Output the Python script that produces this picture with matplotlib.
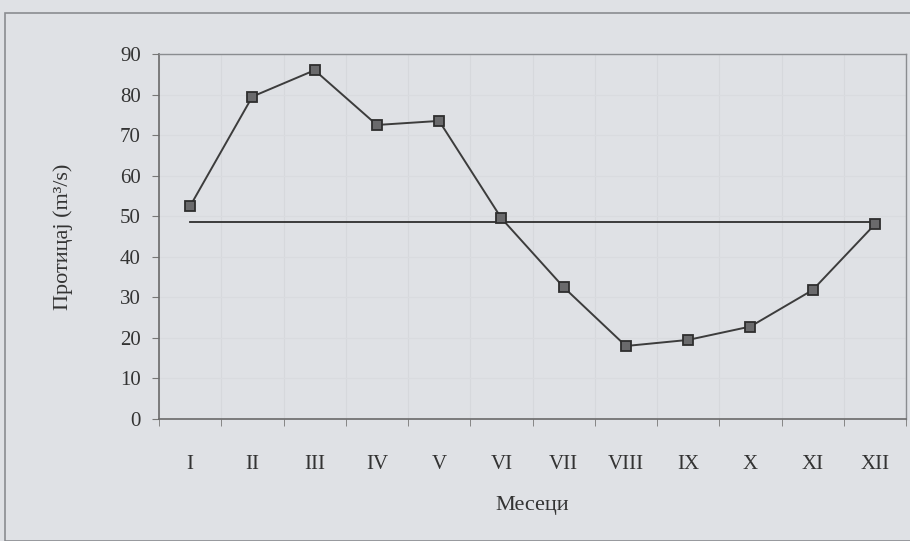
import matplotlib
matplotlib.use("Agg")
from matplotlib import pyplot as plt
from matplotlib.patches import Rectangle

months = ["I", "II", "III", "IV", "V", "VI", "VII", "VIII", "IX", "X", "XI", "XII"]
discharge = [52.5, 79.5, 86.0, 72.5, 73.5, 49.5, 32.5, 18.0, 19.5, 22.8, 31.8, 48.0]
mean_discharge = 48.5

yticks = [0, 10, 20, 30, 40, 50, 60, 70, 80, 90]

plt.rcParams["font.family"] = ["Liberation Serif", "DejaVu Serif"]

bg = "#dfe1e5"
fig = plt.figure(figsize=(9.1, 5.41), dpi=100, facecolor=bg)

# outer chart border
fig.patches.append(Rectangle((5/910, 0.0), 1.0, 1 - 13/541, transform=fig.transFigure,
                             fill=False, edgecolor="#8a8c90", linewidth=1.2))

ax = fig.add_axes([159/910, (541-419)/541, 747/910, 365/541])
ax.set_facecolor(bg)

x = list(range(len(months)))
ax.plot(x, discharge, color="#3c3c3c", linewidth=1.4, marker="s", markersize=7,
        markerfacecolor="#6a6a6c", markeredgecolor="#2e2e2e", markeredgewidth=1.3, zorder=3)
ax.plot([x[0], x[-1]], [mean_discharge, mean_discharge], color="#2e2e2e", linewidth=1.3, zorder=2)

ax.set_xlim(-0.5, len(months) - 0.5)
ax.set_ylim(0, 90)
ax.set_yticks(yticks)
ax.set_yticklabels([str(v) for v in yticks], fontsize=15, color="#333333")
ax.set_xticks(x)
ax.set_xticklabels(months, fontsize=15, color="#333333")
ax.set_xticks([i - 0.5 for i in range(len(months) + 1)], minor=True)
ax.tick_params(axis="x", which="major", length=0, pad=26)
ax.tick_params(axis="x", which="minor", length=5, color="#777777", direction="out")
ax.tick_params(axis="y", length=5, color="#777777", direction="out", pad=8)

ax.grid(axis="x", which="minor", color="#d6d8dc", linewidth=0.8)
ax.grid(axis="y", which="major", color="#d9dbdf", linewidth=0.8)
ax.set_axisbelow(True)

for side in ["left", "bottom"]:
    ax.spines[side].set_color("#6a6a6a")
    ax.spines[side].set_linewidth(1.2)
for side in ["top", "right"]:
    ax.spines[side].set_color("#8a8c90")
    ax.spines[side].set_linewidth(1.0)

ax.set_ylabel("Протицај (m³/s)", fontsize=16, color="#333333", labelpad=34)
ax.set_xlabel("Месеци", fontsize=16, color="#333333", labelpad=16)

plt.savefig("out.png", dpi=100, facecolor=bg)
plt.close()
